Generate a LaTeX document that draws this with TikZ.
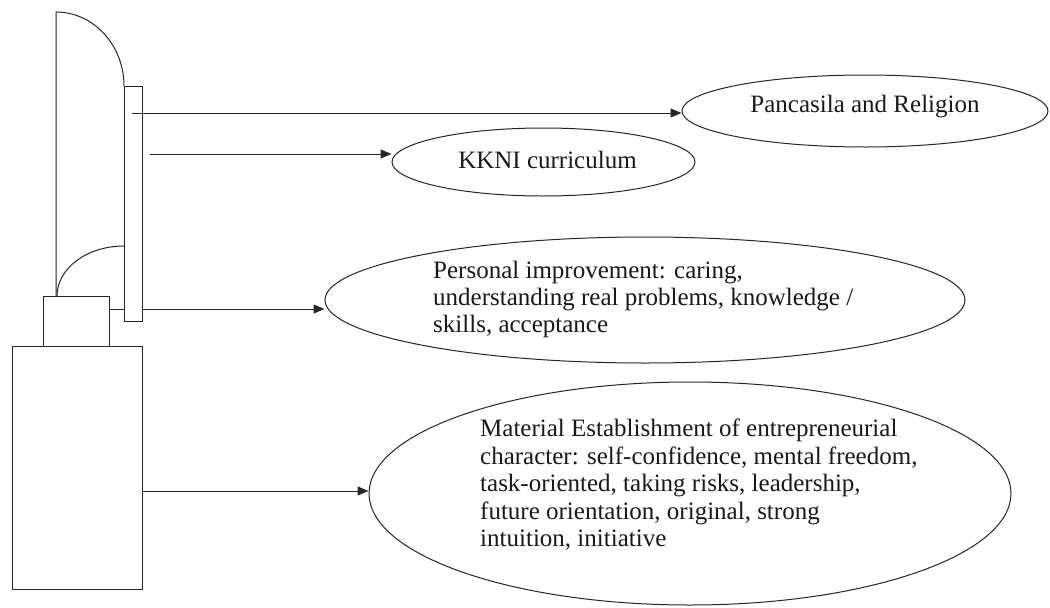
\documentclass[tikz,border=0pt]{standalone}
\usepackage{fontspec}
\setmainfont{Liberation Serif}
\usetikzlibrary{shapes.geometric,arrows.meta}
\tikzset{
  ln/.style={draw=black!85, line width=1pt},
  arr/.style={ln, -{Triangle[length=11pt,width=9pt]}},
  oval/.style={ellipse, ln, inner sep=0pt},
  txt/.style={font=\fontsize{25}{27}\selectfont, align=left, inner sep=0pt, text=black!90},
  boxx/.style={ln, fill=white}
}
\begin{document}
\begin{tikzpicture}[x=1pt,y=-1pt]
\useasboundingbox[fill=white] (0,0) rectangle (1050,608);
% ellipses
\node[oval, minimum width=366pt, minimum height=72pt] (pan) at (865,111) {};
\node[oval, minimum width=303pt, minimum height=68pt] (kk) at (543.5,162) {};
\node[oval, minimum width=640pt, minimum height=126pt] (per) at (645,300) {};
\node[oval, minimum width=642pt, minimum height=223pt] (mat) at (690,493.5) {};
% texts
\node[txt] (tpan) at (865,107) {Pancasila and Religion};
\node[txt] (tkk) at (547.5,160) {KKNI curriculum};
\node[txt, anchor=west] (tper) at (433,299) {Personal improvement: caring,\\understanding real problems, knowledge /\\skills, acceptance};
\node[txt, anchor=west, font=\fontsize{25}{27.5}\selectfont] (tmat) at (480,485) {Material Establishment of entrepreneurial\\character: self-confidence, mental freedom,\\task-oriented, taking risks, leadership,\\future orientation, original, strong\\intuition, initiative};
% left structure
\draw[ln] (56,296) -- (56,12) arc[start angle=-90,end angle=0,x radius=68,y radius=74];
\draw[ln] (57,296) arc[start angle=180,end angle=270,x radius=67,y radius=50];
\node[boxx, anchor=north west, minimum width=66pt, minimum height=50pt, inner sep=0pt] (small) at (43,296) {};
\node[boxx, anchor=north west, minimum width=130pt, minimum height=243pt, inner sep=0pt] (big) at (12,346) {};
% connectors
\coordinate (s3) at (110,309);
\draw[arr] (s3) -- (s3 -| per.west);
\node[boxx, anchor=north west, minimum width=18pt, minimum height=235pt, inner sep=0pt] (bar) at (124,86) {};
\coordinate (s1) at (132,113);
\draw[arr] (s1) -- (s1 -| pan.west);
\coordinate (s2) at (150,154);
\draw[arr] (s2) -- (s2 -| kk.west);
\coordinate (s4) at (143,491);
\draw[arr] (s4) -- (s4 -| mat.west);
\end{tikzpicture}
\end{document}
